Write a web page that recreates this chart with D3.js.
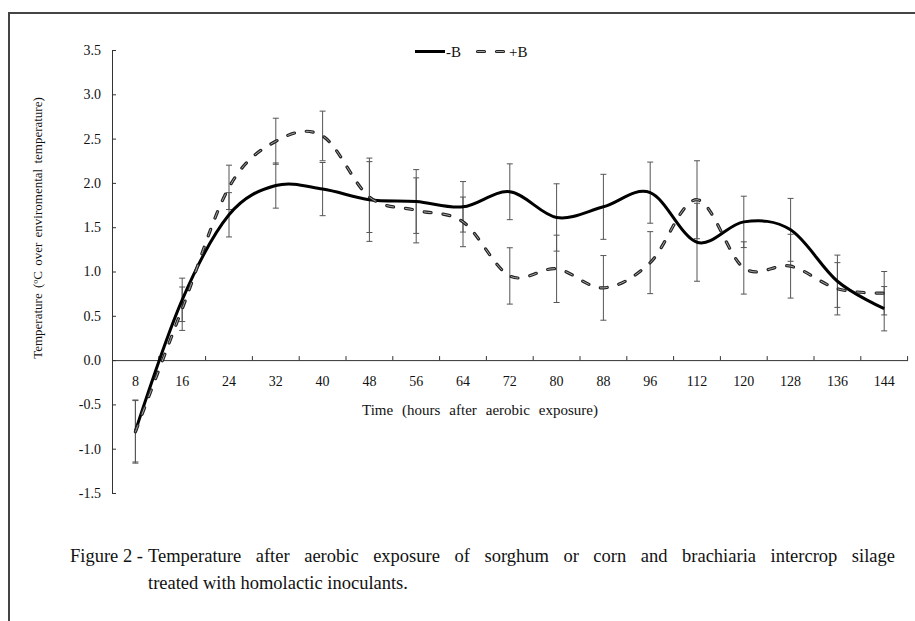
<!DOCTYPE html>
<html>
<head>
<meta charset="utf-8">
<script src="https://cdn.jsdelivr.net/npm/d3@7"></script>
<style>
  body { margin: 0; background: #fff; }
  text { font-family: "Liberation Serif", "Times New Roman", serif; fill: #111; }
</style>
</head>
<body>
<div id="graph"></div>
<script>
// data
var hours = ["8", "16", "24", "32", "40", "48", "56", "64", "72", "80", "88", "96", "112", "120", "128", "136", "144"];
var minusB = [-0.80, 0.68, 1.64, 1.97, 1.93, 1.81, 1.79, 1.73, 1.90, 1.61, 1.73, 1.89, 1.33, 1.56, 1.47, 0.89, 0.58];
var minusBErr = [0.35, 0.245, 0.25, 0.255, 0.30, 0.47, 0.36, 0.285, 0.315, 0.38, 0.367, 0.345, 0.44, 0.29, 0.355, 0.295, 0.25];
var plusB = [-0.81, 0.58, 1.95, 2.47, 2.53, 1.84, 1.69, 1.56, 0.95, 1.03, 0.815, 1.10, 1.81, 1.04, 1.06, 0.805, 0.755];
var plusBErr = [0.353, 0.245, 0.25, 0.26, 0.28, 0.40, 0.367, 0.28, 0.318, 0.38, 0.365, 0.35, 0.44, 0.295, 0.36, 0.295, 0.245];
var yTicks = [-1.5, -1.0, -0.5, 0, 0.5, 1.0, 1.5, 2.0, 2.5, 3.0, 3.5];
var seriesNames = ["-B", "+B"];

var W = 915, H = 621;

var svg = d3.select("#graph").append("svg")
  .attr("width", W)
  .attr("height", H);

svg.append("rect").attr("width", W).attr("height", H).attr("fill", "#fff");

// frame (top and left only visible)
svg.append("path")
  .attr("d", "M9," + H + "V13H" + W)
  .attr("fill", "none")
  .attr("stroke", "#444")
  .attr("stroke-width", 2);

var x = d3.scaleBand().domain(hours).range([112, 907.6]).padding(0);
var y = d3.scaleLinear().domain([-1.5, 3.5]).range([493, 50]);
var cx = function(d) { return x(d) + x.bandwidth() / 2; };

var g = svg.append("g");

// y axis
var yAxis = d3.axisLeft(y).tickValues(yTicks).tickSize(-4).tickSizeOuter(0).tickPadding(11)
  .tickFormat(function(d) { return d.toFixed(1); });
var ya = g.append("g").attr("transform", "translate(112,0)").call(yAxis);
ya.selectAll("path, line").attr("stroke", "#333");
ya.selectAll("text").style("font-size", "14px").attr("fill", "#111")
  .style("font-family", "Liberation Serif");

// x axis at zero
var xAxis = d3.axisBottom(x).tickSize(0).tickPadding(16);
var xa = g.append("g").attr("transform", "translate(0," + y(0) + ")").call(xAxis);
xa.select(".domain").attr("stroke", "#333");
xa.selectAll("text").style("font-size", "14px").attr("fill", "#111")
  .style("font-family", "Liberation Serif");
xa.selectAll(".bound").data(hours).enter().append("line")
  .attr("class", "bound")
  .attr("x1", function(d) { return x(d) + x.bandwidth(); })
  .attr("x2", function(d) { return x(d) + x.bandwidth(); })
  .attr("y1", 0).attr("y2", -4)
  .attr("stroke", "#333");

// error bars
function errBars(vals, errs) {
  var eg = g.append("g").attr("stroke", "#555").attr("stroke-width", 1);
  hours.forEach(function(h, i) {
    var lo = y(vals[i] - errs[i]), hi = y(vals[i] + errs[i]), xc = cx(h);
    eg.append("line").attr("x1", xc).attr("x2", xc).attr("y1", lo).attr("y2", hi);
    eg.append("line").attr("x1", xc - 3).attr("x2", xc + 3).attr("y1", lo).attr("y2", lo);
    eg.append("line").attr("x1", xc - 3).attr("x2", xc + 3).attr("y1", hi).attr("y2", hi);
  });
}
errBars(minusB, minusBErr);
errBars(plusB, plusBErr);

var line = d3.line()
  .x(function(d) { return cx(d[0]); })
  .y(function(d) { return y(d[1]); })
  .curve(d3.curveCatmullRom.alpha(0));

var solidData = hours.map(function(h, i) { return [h, minusB[i]]; });
var dashData = hours.map(function(h, i) { return [h, plusB[i]]; });

g.append("path").attr("d", line(solidData))
  .attr("fill", "none").attr("stroke", "#000").attr("stroke-width", 3);

g.append("path").attr("d", line(dashData))
  .attr("fill", "none").attr("stroke", "#222").attr("stroke-width", 3.2)
  .attr("stroke-dasharray", "7,12").attr("stroke-linecap", "round");
g.append("path").attr("d", line(dashData))
  .attr("fill", "none").attr("stroke", "#aaa").attr("stroke-width", 1)
  .attr("stroke-dasharray", "7,12").attr("stroke-linecap", "round");

// legend
var lg = svg.append("g");
lg.append("line").attr("x1", 415).attr("x2", 445).attr("y1", 51.5).attr("y2", 51.5)
  .attr("stroke", "#000").attr("stroke-width", 3);
lg.append("text").attr("x", 446).attr("y", 56.5).style("font-size", "15px").text(seriesNames[0]);
lg.append("line").attr("x1", 477.5).attr("x2", 505).attr("y1", 51.5).attr("y2", 51.5)
  .attr("stroke", "#222").attr("stroke-width", 3.2).attr("stroke-dasharray", "7,12").attr("stroke-linecap", "round");
lg.append("line").attr("x1", 477.5).attr("x2", 505).attr("y1", 51.5).attr("y2", 51.5)
  .attr("stroke", "#aaa").attr("stroke-width", 1).attr("stroke-dasharray", "7,12").attr("stroke-linecap", "round");
lg.append("text").attr("x", 509).attr("y", 56.5).style("font-size", "15px").text(seriesNames[1]);

// spread words so a line fills a given width
function justify(t, width) {
  var n = t.text().split(" ").length - 1;
  var w = t.node().getComputedTextLength();
  if (n > 0) t.style("word-spacing", ((width - w) / n) + "px");
}

// axis titles
svg.append("text")
  .attr("transform", "translate(42,228) rotate(-90)")
  .attr("text-anchor", "middle")
  .style("font-size", "13px")
  .style("word-spacing", "2px")
  .text("Temperature  (ºC over enviromental temperature)");

var xt = svg.append("text")
  .attr("x", 362).attr("y", 415)
  .style("font-size", "15px")
  .text("Time (hours after aerobic exposure)");
justify(xt, 236);

// caption with hanging indent, first line justified
var capSize = "18.5px";
svg.append("text").attr("x", 143).attr("y", 562).attr("text-anchor", "end")
  .style("font-size", capSize)
  .text("Figure 2 -");
var cap1 = svg.append("text").attr("x", 148).attr("y", 562).style("font-size", capSize)
  .text("Temperature after aerobic exposure of sorghum or corn and brachiaria intercrop silage");
justify(cap1, 895 - 148);
svg.append("text").attr("x", 148).attr("y", 589).style("font-size", capSize)
  .text("treated with homolactic inoculants.");
</script>
</body>
</html>
